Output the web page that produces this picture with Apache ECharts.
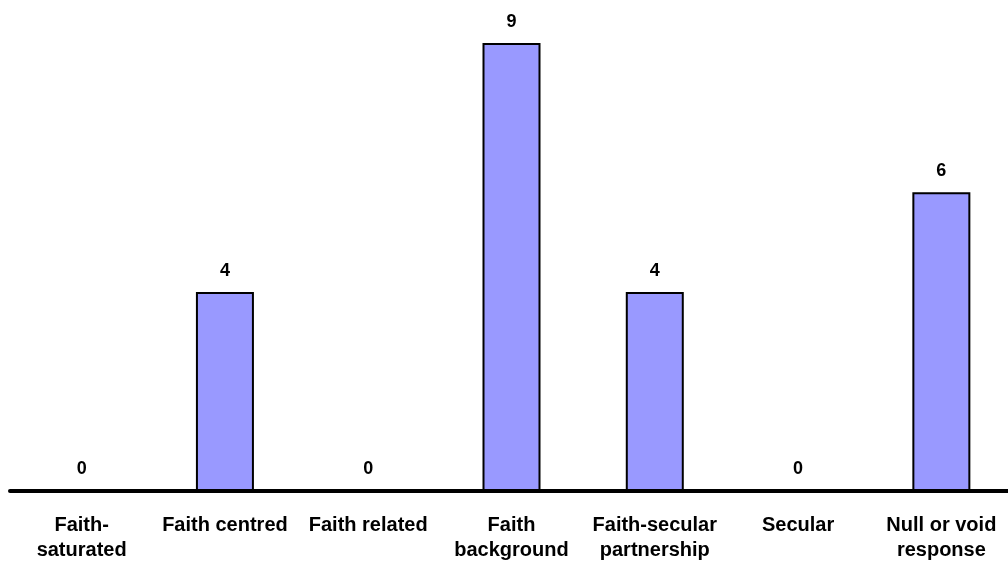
<!DOCTYPE html>
<html>
<head>
<meta charset="utf-8">
<script src="https://cdn.jsdelivr.net/npm/echarts@6/dist/echarts.min.js"></script>
<style>html,body{margin:0;padding:0;background:#fff;overflow:hidden;width:1008px;height:565px}#c{width:1013px;height:565px}</style>
</head>
<body>
<div id="c"></div>
<script>
var categories = ["Faith-\nsaturated", "Faith centred", "Faith related", "Faith\nbackground", "Faith-secular\npartnership", "Secular", "Null or void\nresponse"];
var values = [0, 4, 0, 9, 4, 0, 6];

var chart = echarts.init(document.getElementById('c'), null, {renderer: 'canvas'});
chart.setOption({
  animation: false,
  backgroundColor: '#ffffff',
  grid: {left: 10, right: 0, top: 43, bottom: 74, containLabel: false},
  xAxis: {
    type: 'category',
    data: categories,
    axisLine: {show: true, lineStyle: {color: '#000', width: 4}},
    axisTick: {show: false},
    axisLabel: {
      interval: 0,
      margin: 22,
      color: '#000',
      fontFamily: 'Liberation Sans, Arial, sans-serif',
      fontWeight: 'bold',
      fontSize: 20,
      lineHeight: 25
    }
  },
  yAxis: {
    type: 'value',
    min: 0,
    max: 9,
    show: false,
    splitLine: {show: false}
  },
  series: [{
    type: 'bar',
    data: values,
    barWidth: 58,
    itemStyle: {color: '#9999ff', borderColor: '#000', borderWidth: 2},
    label: {
      show: true,
      position: 'top',
      distance: 12,
      color: '#000',
      fontFamily: 'Liberation Sans, Arial, sans-serif',
      fontWeight: 'bold',
      fontSize: 18
    }
  }]
});
</script>
</body>
</html>
